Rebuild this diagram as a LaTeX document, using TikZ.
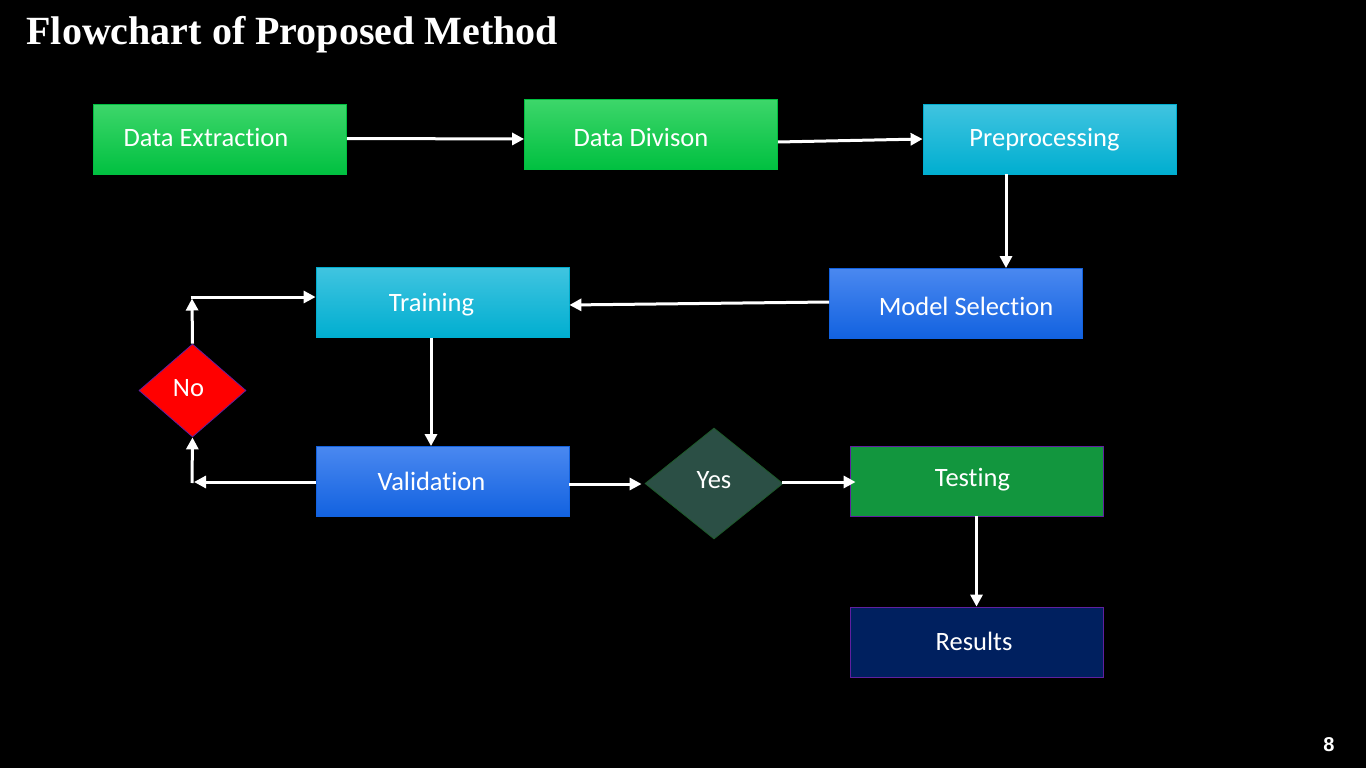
\documentclass[tikz,border=0pt]{standalone}
\usepackage{fontspec}
\setmainfont{Carlito}[Ligatures=NoCommon]
\newfontfamily\titlefont{Liberation Serif}
\newfontfamily\numfont{Liberation Sans}
\usetikzlibrary{shapes.geometric,arrows.meta}
\definecolor{gtop}{HTML}{3DD66A}
\definecolor{gbot}{HTML}{00C040}
\definecolor{ctop}{HTML}{40C4E0}
\definecolor{cbot}{HTML}{00AED0}
\definecolor{btop}{HTML}{4A88F0}
\definecolor{bbot}{HTML}{1262E0}
\definecolor{testg}{HTML}{12963E}
\definecolor{resb}{HTML}{00205F}
\definecolor{purp}{HTML}{6020A0}
\definecolor{yesf}{HTML}{2B4F45}
\definecolor{yesb}{HTML}{1E5A2A}
\begin{document}
\begin{tikzpicture}[x=1pt,y=-1pt,
  txt/.style={text=white,font=\fontsize{26.5}{30}\selectfont,text height=20pt,text depth=6pt},
  box/.style={rectangle,minimum width=253pt,minimum height=70pt,inner sep=0pt,txt},
  greenbox/.style={box,top color=gtop,bottom color=gbot,draw=gbot,line width=0.8pt},
  cyanbox/.style={box,top color=ctop,bottom color=cbot,draw=cbot,line width=0.8pt},
  bluebox/.style={box,top color=btop,bottom color=bbot,draw=bbot,line width=0.8pt},
  arr/.style={draw=white,line width=3pt,-{Triangle[length=12pt,width=12pt]}}]
\fill[black] (0,0) rectangle (1366,768);
\useasboundingbox (0,0) rectangle (1366,768);
\node[anchor=west,text=white,font=\titlefont\bfseries\fontsize{40}{44}\selectfont] (title) at (23,35) {Flowchart of Proposed Method};
\node[text=white,font=\numfont\bfseries\fontsize{20}{24}\selectfont] (pg) at (1329,745) {8};
\node[greenbox] (DE) at (220,139.5) {\hspace*{-28pt}Data Extraction};
\node[greenbox] (DD) at (651,134.5) {\hspace*{-20pt}\raisebox{-5pt}{Data Divison}};
\node[cyanbox] (PP) at (1049.5,139) {\hspace*{-10pt}Preprocessing};
\node[bluebox] (MS) at (956,303.5) {\hspace*{20pt}\raisebox{-5pt}{Model Selection}};
\node[cyanbox] (TR) at (442.5,302.5) {\hspace*{-22pt}\raisebox{-2pt}{Training}};
\node[bluebox] (VA) at (442.5,481.5) {\hspace*{-22pt}\raisebox{-2pt}{Validation}};
\node[diamond,minimum width=107pt,minimum height=93pt,inner sep=0pt,fill=red,draw=purp,line width=0.8pt,txt] (NO) at (192.5,390.5) {\hspace*{-8pt}\raisebox{1pt}{No}};
\node[diamond,minimum width=138pt,minimum height=111pt,inner sep=0pt,fill=yesf,draw=yesb,line width=0.8pt,txt] (YES) at (714,483.5) {\raisebox{2pt}{Yes}};
\node[box,fill=testg,draw=purp,line width=0.8pt] (TE) at (976.5,481) {\hspace*{-8pt}\raisebox{1.5pt}{Testing}};
\node[box,fill=resb,draw=purp,line width=0.8pt] (RE) at (976.5,642) {\hspace*{-5pt}\raisebox{-1.5pt}{Results}};
\coordinate (c1) at (192,482);
\coordinate (c2) at (192,297);
\draw[arr] ([yshift=1pt]DE.east) -- ([yshift=0pt]DD.west |- 0,139);
\draw[arr] ([yshift=-7.5pt]DD.east) -- (PP.west);
\draw[arr] (PP.south -| 1006,0) -- (MS.north -| 1006,0);
\draw[arr] ([yshift=1.5pt]MS.west) -- ([yshift=-2.5pt]TR.east);
\draw[arr] (TR.south -| 431,0) -- (VA.north -| 431,0);
\draw[arr] (VA.west |- 0,482) -- ([xshift=2pt]c1);
\draw[arr] ([yshift=-1pt]c1) -- (NO.south);
\draw[arr] (NO.north) -- ([yshift=-1.5pt]c2);
\draw[arr] ([xshift=-1.5pt]c2) -- (c2 -| TR.west);
\draw[arr] (VA.east |- 0,484) -- ([xshift=-3pt]YES.west |- 0,484);
\draw[arr] ([xshift=-1pt]YES.east |- 0,482) -- ([xshift=6pt]TE.west |- 0,482);
\draw[arr] (TE.south) -- (RE.north);
\end{tikzpicture}
\end{document}
